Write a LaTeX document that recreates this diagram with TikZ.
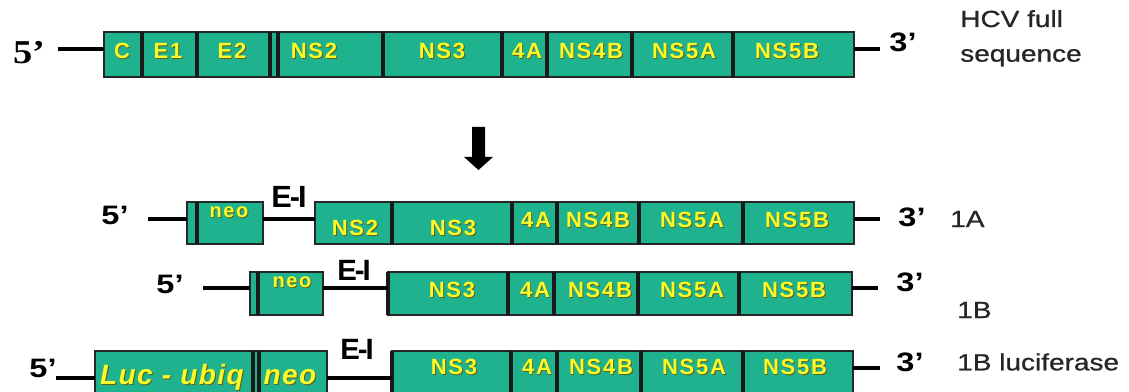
\documentclass[tikz,border=0pt]{standalone}
\usepackage{graphicx}
\usepackage{fontspec}
\setmainfont{Liberation Sans}
\newfontfamily\segfont{Liberation Sans}[LetterSpace=8]
\newfontfamily\lucfont{Liberation Sans}[LetterSpace=5]
\newfontfamily\serifbold{Liberation Serif}
\newfontfamily\rowfont{Liberation Sans}[RawFeature={embolden=0.8}]
\usetikzlibrary{fit,calc}
\definecolor{segfill}{RGB}{30,178,142}
\definecolor{segtext}{RGB}{250,250,40}
\definecolor{segshadow}{RGB}{95,95,25}
\definecolor{lbltext}{RGB}{38,38,38}
\newcommand\shd[1]{\makebox[0pt][l]{\kern0.7pt\raisebox{-0.7pt}{\textcolor{segshadow}{#1}}}#1}
\newcommand\EI{E\kern-1.5pt-\kern-1.5pt I}
\newcommand\sx[1]{\scalebox{1.22}[1]{#1}}
\newcommand\sxl[1]{\scalebox{1.2}[1]{#1}}
\tikzset{
 segbox/.style={draw=black!85, line width=0.8pt, fill=segfill, inner sep=0pt, outer sep=0pt},
 seglab/.style={font=\segfont\bfseries\fontsize{16.5}{19}\selectfont, text=segtext, inner sep=0pt},
 neolab/.style={font=\segfont\bfseries\fontsize{15}{17}\selectfont, text=segtext, inner sep=0pt},
 luclab/.style={font=\lucfont\bfseries\itshape\fontsize{21}{24}\selectfont, text=segtext, inner sep=0pt},
 divider/.style={line width=2.4pt, draw=black!90},
 connline/.style={line width=2.3pt, draw=black},
 endlab/.style={font=\bfseries\fontsize{20}{24}\selectfont, inner sep=0pt},
 eilab/.style={font=\bfseries\fontsize{22}{24}\selectfont, inner sep=0pt},
 rowlab/.style={font=\rowfont\fontsize{17.5}{21}\selectfont, text=lbltext, inner sep=0pt},
}
% name, x1, x2, y1, y2, text x, text y, text
\newcommand\segm[8]{%
 \node[segbox, fit={(#2,#4) (#3,#5)}] (#1) {};
 \node[seglab] (#1t) at (#6,#7) {\shd{#8}};}
\newcommand\divl[2]{\draw[divider] ($(#1.north west)+(#2,0)$) -- ($(#1.south west)+(#2,0)$);}
\begin{document}
\begin{tikzpicture}[x=0.75pt,y=-0.75pt]
\useasboundingbox (0,0) rectangle (1129,392);

% ---------- HCV full sequence ----------
\segm{tC}{104}{142}{32}{77}{122}{51}{C}
\segm{tEa}{142}{197}{32}{77}{168}{51}{E1}
\segm{tEb}{197}{270}{32}{77}{232}{51}{E2}
\segm{tNSb}{270}{383}{32}{77}{314}{51}{NS2}
\segm{tNSc}{383}{502}{32}{77}{442}{51}{NS3}
\segm{tFA}{502}{547}{32}{77}{527}{51}{4A}
\segm{tFB}{547}{632}{32}{77}{591}{51}{NS4B}
\segm{tFiA}{632}{733}{32}{77}{684}{51}{NS5A}
\segm{tFiB}{733}{854}{32}{77}{787}{51}{NS5B}
\divl{tEa}{0}\divl{tEb}{0}\divl{tNSb}{0}\divl{tNSb}{8}
\divl{tNSc}{0}\divl{tFA}{0}\divl{tFB}{0}\divl{tFiA}{0}\divl{tFiB}{0}
\node[endlab, font=\serifbold\bfseries\fontsize{25}{27}\selectfont] (t5) at (29,53) {\scalebox{1.15}[1]{5’}};
\node[endlab] (t3) at (903,42) {\sx{3’}};
\coordinate (ty) at (0,49);
\coordinate (t5w) at (58,49);
\coordinate (t3w) at (880,49);
\draw[connline] (t5w) -- (tC.west |- ty);
\draw[connline] (tFiB.east |- ty) -- (t3w);
\node[rowlab, anchor=base west] (tl) at (960,27) {\sxl{\begin{tabular}[t]{@{}l@{}}HCV full\\[5pt]sequence\end{tabular}}};

% ---------- arrow ----------
\fill[black] (472,127) -- (485,127) -- (485,157) -- (493,157) -- (478.5,170) -- (464,157) -- (472,157) -- cycle;

% ---------- 1A ----------
\node[endlab] (a5) at (115,215) {\sx{5’}};
\coordinate (ay) at (0,219);
\coordinate (a5w) at (148,219);
\node[segbox, fit={(187,202) (263,244)}] (aneo) {};
\divl{aneo}{10}
\node[neolab] (aneot) at (229,213) {\shd{neo}};
\node[eilab, font=\bfseries\fontsize{23}{25}\selectfont] (aei) at (289,197) {\EI};
\segm{aNSb}{315}{392}{202}{244}{355}{228}{NS2}
\segm{aNSc}{392}{512}{202}{244}{453}{228}{NS3}
\segm{aFA}{512}{557}{202}{244}{536}{220}{4A}
\segm{aFB}{557}{639}{202}{244}{598}{220}{NS4B}
\segm{aFiA}{639}{743}{202}{244}{692}{220}{NS5A}
\segm{aFiB}{743}{854}{202}{244}{797}{220}{NS5B}
\divl{aNSc}{0}\divl{aFA}{0}\divl{aFB}{0}\divl{aFiA}{0}\divl{aFiB}{0}
\draw[connline] (a5w) -- (aneo.west |- ay);
\draw[connline] (aneo.east |- ay) -- (aNSb.west |- ay);
\coordinate (a3w) at (880,219);
\draw[connline] (aFiB.east |- ay) -- (a3w);
\node[endlab] (a3) at (912,217) {\sx{3’}};
\node[rowlab, anchor=west] (al) at (950,219) {\sxl{1A}};

% ---------- 1B ----------
\node[endlab] (b5) at (170,284) {\sx{5’}};
\coordinate (by) at (0,288);
\coordinate (b5w) at (203,288);
\node[segbox, fit={(250,272) (323,315)}] (bneo) {};
\divl{bneo}{8}
\node[neolab] (bneot) at (292,283) {\shd{neo}};
\node[eilab] (bei) at (354,270) {\EI};
\segm{bNSc}{388}{508}{272}{315}{452}{290}{NS3}
\segm{bFA}{508}{554}{272}{315}{535}{290}{4A}
\segm{bFB}{554}{638}{272}{315}{600}{290}{NS4B}
\segm{bFiA}{638}{739}{272}{315}{692}{290}{NS5A}
\segm{bFiB}{739}{852}{272}{315}{794}{290}{NS5B}
\divl{bNSc}{0}\divl{bFA}{0}\divl{bFB}{0}\divl{bFiA}{0}\divl{bFiB}{0}
\draw[connline] (b5w) -- (bneo.west |- by);
\draw[connline] (bneo.east |- by) -- (bNSc.west |- by);
\coordinate (b3w) at (878,288);
\draw[connline] (bFiB.east |- by) -- (b3w);
\node[endlab] (b3) at (910,282) {\sx{3’}};
\node[rowlab, anchor=west] (bl) at (957,310) {\sxl{1B}};

% ---------- 1B luciferase ----------
\node[endlab] (l5) at (43,368) {\sx{5’}};
\coordinate (ly) at (0,378);
\coordinate (l5w) at (56,378);
\node[segbox, fit={(95,351) (327,396)}] (lluc) {};
\divl{lluc}{158}\divl{lluc}{164}
\node[luclab] (llucA) at (172,378) {\shd{Luc - ubiq}};
\node[luclab] (llucB) at (290,378) {\shd{neo}};
\node[eilab] (lei) at (357,349) {\EI};
\segm{lNSc}{392}{511}{351}{396}{454}{367}{NS3}
\segm{lFA}{511}{557}{351}{396}{537}{367}{4A}
\segm{lFB}{557}{641}{351}{396}{601}{367}{NS4B}
\segm{lFiA}{641}{743}{351}{396}{694}{367}{NS5A}
\segm{lFiB}{743}{853}{351}{396}{795}{367}{NS5B}
\divl{lNSc}{0}\divl{lFA}{0}\divl{lFB}{0}\divl{lFiA}{0}\divl{lFiB}{0}
\draw[connline] (l5w) -- (lluc.west |- ly);
\draw[connline] (lluc.east |- ly) -- (lNSc.west |- ly);
\coordinate (lry) at (0,368);
\coordinate (l3w) at (880,368);
\draw[connline] (lFiB.east |- lry) -- (l3w);
\node[endlab] (l3) at (910,362) {\sx{3’}};
\node[rowlab, anchor=west] (ll) at (957,362) {\sxl{1B luciferase}};
\end{tikzpicture}
\end{document}
